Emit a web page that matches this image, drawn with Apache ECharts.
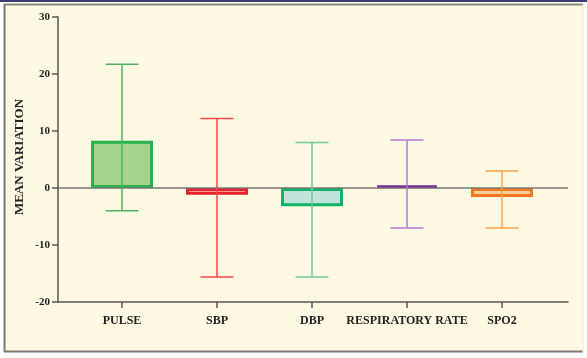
<!DOCTYPE html>
<html>
<head>
<meta charset="utf-8">
<script src="https://cdn.jsdelivr.net/npm/echarts@6/dist/echarts.min.js"></script>
<style>
html,body{margin:0;padding:0;background:#ffffff;}
#c{width:587px;height:358px;}
</style>
</head>
<body>
<div id="c"></div>
<script>
var categories = ['PULSE', 'SBP', 'DBP', 'RESPIRATORY RATE', 'SPO2'];
var meanValues = [8.3, -1.2, -3.2, 0.4, -1.6];
var errHigh = [21.7, 12.2, 8.0, 8.4, 3.0];
var errLow = [-4.0, -15.6, -15.6, -7.0, -7.0];
var yTicks = [-20, -10, 0, 10, 20, 30];

var fillColors = ['#a6d38c', '#f7c7c0', '#c4e2dc', '#b58ad0', '#f8cf9a'];
var borderColors = ['#27b24a', '#e8212b', '#12b26b', '#7a2a98', '#f2771f'];
var errColors = ['#4fb35a', '#f04848', '#72c99a', '#b579d6', '#f8a24a'];

var chart = echarts.init(document.getElementById('c'));
var serif = 'Liberation Serif';

var barData = meanValues.map(function (v, i) {
  return {
    value: v,
    itemStyle: { color: fillColors[i], borderColor: borderColors[i], borderWidth: 3 }
  };
});
var errData = categories.map(function (c, i) { return [i, errLow[i], errHigh[i]]; });

chart.setOption({
  animation: false,
  backgroundColor: '#ffffff',
  graphic: [
    { type: 'rect', shape: { x: 4, y: 4, width: 579, height: 348 }, style: { fill: '#fdf9e2', stroke: null }, z: -10 },
    { type: 'line', shape: { x1: 0, y1: 1, x2: 587, y2: 1 }, style: { stroke: '#3c3c6c', lineWidth: 2 }, z: -5 },
    { type: 'line', shape: { x1: 4, y1: 4.5, x2: 583, y2: 4.5 }, style: { stroke: '#8a8a80', lineWidth: 2 }, z: -5 },
    { type: 'line', shape: { x1: 4.5, y1: 4, x2: 4.5, y2: 352 }, style: { stroke: '#7a7a72', lineWidth: 2 }, z: -5 },
    { type: 'line', shape: { x1: 4, y1: 351.5, x2: 583, y2: 351.5 }, style: { stroke: '#7a7a72', lineWidth: 2 }, z: -5 },
    { type: 'line', shape: { x1: 583, y1: 4, x2: 583, y2: 352 }, style: { stroke: '#ece8cf', lineWidth: 1 }, z: -5 },
    { type: 'text', x: 20, y: 157, rotation: Math.PI / 2,
      style: { text: 'MEAN VARIATION', font: 'bold 13px "Liberation Serif"', fill: '#222', textAlign: 'center', textVerticalAlign: 'middle' } }
  ],
  grid: [
    { left: 58, right: 19, top: 17, bottom: 56, containLabel: false },
    { left: 74.5, right: 37.5, top: 17, bottom: 56, containLabel: false }
  ],
  xAxis: [
    { type: 'value', gridIndex: 0, min: 0, max: 1, axisLine: { show: true, onZero: false, lineStyle: { color: '#555', width: 1.5 } },
      axisTick: { show: false }, axisLabel: { show: false }, splitLine: { show: false } },
    { type: 'category', gridIndex: 1, data: categories,
      axisLine: { show: false, onZero: false }, axisTick: { show: true, alignWithLabel: true, length: 6, lineStyle: { color: '#555', width: 1.5 } },
      axisLabel: { fontFamily: serif, fontWeight: 'bold', fontSize: 12, color: '#222', margin: 13, interval: 0 } }
  ],
  yAxis: [
    { type: 'value', gridIndex: 0, min: yTicks[0], max: yTicks[yTicks.length - 1], interval: 10,
      axisLine: { show: true, lineStyle: { color: '#555', width: 1.5 } },
      axisTick: { show: true, length: 6, lineStyle: { color: '#555', width: 1.5 } },
      axisLabel: { fontFamily: serif, fontWeight: 'bold', fontSize: 11, color: '#222', margin: 8 },
      splitLine: { show: false } },
    { type: 'value', gridIndex: 1, min: yTicks[0], max: yTicks[yTicks.length - 1], interval: 10, show: false, splitLine: { show: false } }
  ],
  series: [
    { type: 'line', xAxisIndex: 0, yAxisIndex: 0, data: [], silent: true, z: 4,
      markLine: { silent: true, symbol: ['none', 'none'], label: { show: false },
        lineStyle: { color: '#777', width: 1.5, type: 'solid' }, data: [{ yAxis: 0 }] } },
    { type: 'bar', xAxisIndex: 1, yAxisIndex: 1, data: barData, barWidth: 62, z: 2 },
    { type: 'custom', xAxisIndex: 1, yAxisIndex: 1, data: errData, z: 5,
      renderItem: function (params, api) {
        var i = api.value(0);
        var lo = api.coord([i, api.value(1)]);
        var hi = api.coord([i, api.value(2)]);
        var hw = 16.5;
        var st = { stroke: errColors[params.dataIndex], lineWidth: 1.5 };
        return { type: 'group', children: [
          { type: 'line', shape: { x1: hi[0], y1: hi[1], x2: lo[0], y2: lo[1] }, style: st },
          { type: 'line', shape: { x1: hi[0] - hw, y1: hi[1], x2: hi[0] + hw, y2: hi[1] }, style: st },
          { type: 'line', shape: { x1: lo[0] - hw, y1: lo[1], x2: lo[0] + hw, y2: lo[1] }, style: st }
        ] };
      } }
  ]
});
</script>
</body>
</html>
